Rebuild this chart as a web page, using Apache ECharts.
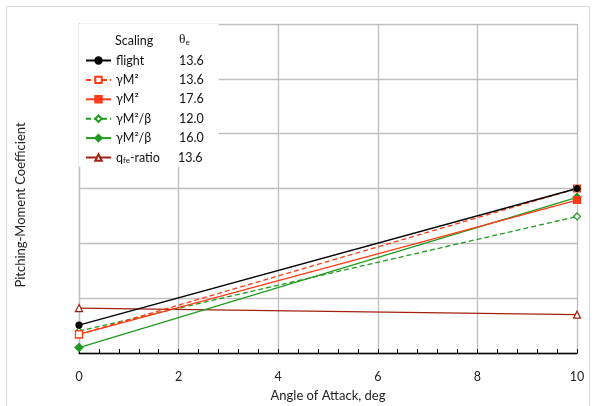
<!DOCTYPE html>
<html><head><meta charset="utf-8">
<script src="https://cdn.jsdelivr.net/npm/echarts@6/dist/echarts.min.js"></script>
<style>html,body{margin:0;padding:0;background:#fff}#c{width:595px;height:406px}</style>
</head><body><div id="c"></div>
<script>
// ---- data ----
const angles = [0, 10];
const flight = [0.51, 3.00];
const gm2_136 = [0.34, 3.00];
const gm2_176 = [0.34, 2.79];
const gm2b_120 = [0.40, 2.49];
const gm2b_160 = [0.10, 2.84];
const qfe_136 = [0.82, 0.70];
const xTicks = [0, 2, 4, 6, 8, 10];
const scalingLabels = ['flight', 'γM²', 'γM²', 'γM²/β', 'γM²/β', 'qfe-ratio'];
const thetaE = ['13.6', '13.6', '17.6', '12.0', '16.0', '13.6'];

const FONT = 'Lato';
const RED = '#ff3a14', GREEN = '#1f9a1f', DRED = '#a3200f';
const ids = ['s0', 's1', 's2', 's3', 's4', 's5'];

function pts(ys) { return angles.map((x, i) => [x, ys[i]]); }

function mk(idx, ys, color, dashed, symbol, filled, size) {
  return {
    name: ids[idx], type: 'line', data: pts(ys),
    symbol: symbol, symbolSize: size,
    lineStyle: { color: color, width: 1.3, type: dashed ? [5, 3] : 'solid' },
    itemStyle: { color: filled ? color : '#fff', borderColor: color, borderWidth: 1.2 },
    emphasis: { disabled: true }, animation: false
  };
}

const series = [
  mk(5, qfe_136, DRED, false, 'triangle', false, 7),
  mk(3, gm2b_120, GREEN, true, 'diamond', false, 7),
  mk(4, gm2b_160, GREEN, false, 'diamond', true, 8),
  mk(2, gm2_176, RED, false, 'rect', true, 7),
  mk(1, gm2_136, RED, true, 'rect', false, 7),
  mk(0, flight, '#000', false, 'circle', true, 6)
];

const chart = echarts.init(document.getElementById('c'), null, { renderer: 'canvas' });
chart.setOption({
  backgroundColor: '#fff',
  animation: false,
  textStyle: { fontFamily: FONT },
  grid: { left: 79, right: 18, top: 24, bottom: 53, containLabel: false, outerBoundsMode: 'none' },
  xAxis: {
    type: 'value', min: 0, max: 10, interval: 2,
    name: 'Angle of Attack, deg', nameLocation: 'middle', nameGap: 36,
    nameTextStyle: { fontFamily: FONT, fontSize: 13, color: '#222' },
    axisLine: { show: true, lineStyle: { color: '#000', width: 1.3 } },
    axisTick: { show: true, inside: true, length: 4, lineStyle: { color: '#000' } },
    minorTick: { show: true, splitNumber: 5, length: 4, lineStyle: { color: '#000' } },
    axisLabel: { fontFamily: FONT, fontSize: 12.5, color: '#222', margin: 17,
      formatter: v => xTicks.includes(v) ? String(v) : '' },
    splitLine: { show: true, lineStyle: { color: '#bfbfbf', width: 1.3 } }
  },
  yAxis: {
    type: 'value', min: 0, max: 6, interval: 1,
    axisLine: { show: true, lineStyle: { color: '#bfbfbf', width: 1.3 } },
    axisTick: { show: false }, axisLabel: { show: false },
    splitLine: { show: true, lineStyle: { color: '#bfbfbf', width: 1.3 } }
  },
  legend: {
    orient: 'vertical', left: 79, top: 24,
    padding: [30, 15, 2, 6],
    backgroundColor: '#fff',
    itemWidth: 25, itemHeight: 8, itemGap: 6.4,
    data: ids,
    selectedMode: false,
    formatter: function (name) {
      const i = ids.indexOf(name);
      let lab;
      if (i === 5) lab = '{q|q}{s|fe}{r|-ratio}';
      else lab = '{n|' + scalingLabels[i] + '}';
      return lab + '{v|' + thetaE[i] + '}';
    },
    textStyle: {
      fontFamily: FONT, fontSize: 12.5, color: '#111',
      rich: {
        n: { fontFamily: FONT, fontSize: 12.5, width: 63, lineHeight: 14, color: '#111' },
        q: { fontFamily: FONT, fontSize: 12.5, lineHeight: 14, color: '#111' },
        s: { fontFamily: FONT, fontSize: 8, lineHeight: 8, verticalAlign: 'bottom', color: '#111' },
        r: { fontFamily: FONT, fontSize: 12.5, width: 48, lineHeight: 14, color: '#111' },
        v: { fontFamily: FONT, fontSize: 12.5, width: 20, lineHeight: 14, color: '#111' }
      }
    }
  },
  graphic: [
    { type: 'rect', shape: { x: 6.5, y: 6.5, width: 583, height: 430 },
      style: { fill: 'none', stroke: '#d9d9d9', lineWidth: 1 }, silent: true, z: 0 },
    { type: 'text', left: 115, top: 34, z: 100,
      style: { text: 'Scaling', font: '12.5px ' + FONT, fill: '#111' } },
    { type: 'text', left: 179, top: 32, z: 100,
      style: { text: '{a|θ}{s|e}', fill: '#111',
        rich: { a: { fontFamily: 'Liberation Serif', fontSize: 13.5, lineHeight: 15 },
                s: { fontFamily: FONT, fontSize: 8, lineHeight: 8, verticalAlign: 'bottom' } } } },
    { type: 'text', x: 21, y: 205, rotation: Math.PI / 2, z: 100,
      style: { text: 'Pitching-Moment Coefficient', font: '13px ' + FONT, fill: '#222',
        align: 'center', verticalAlign: 'middle' } }
  ],
  series: series
});
</script>
</body></html>
